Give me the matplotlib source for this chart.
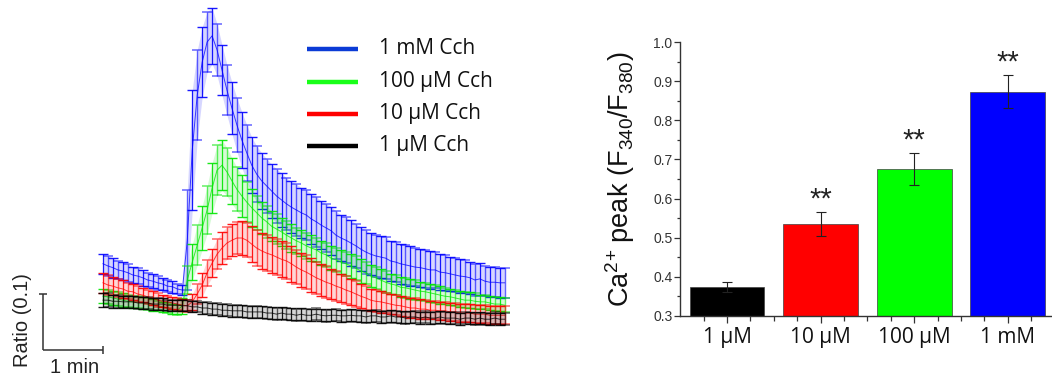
import numpy as np
import matplotlib
matplotlib.use("Agg")
import matplotlib.pyplot as plt
from matplotlib.lines import Line2D
from matplotlib.ticker import MultipleLocator, FixedLocator

plt.rcParams['font.family'] = ['Liberation Sans', 'DejaVu Sans']
plt.rcParams['mathtext.fontset'] = 'custom'
plt.rcParams['mathtext.rm'] = 'Liberation Sans'
plt.rcParams['mathtext.it'] = 'Liberation Sans:italic'
plt.rcParams['mathtext.bf'] = 'Liberation Sans:bold'
plt.rcParams['mathtext.default'] = 'regular'

# ---------------- data: Ca2+ traces (ratio F340/F380, mean and SEM) -------------
sample_interval_s = 5
time_s = np.arange(82) * sample_interval_s

trace_labels = ['1 mM Cch', '100 \u00b5M Cch', '10 \u00b5M Cch', '1 \u00b5M Cch']

mean_1mM = [0.454, 0.450, 0.447, 0.443, 0.441, 0.438, 0.434, 0.432, 0.429, 0.425, 0.423, 0.420, 0.418, 0.414, 0.413, 0.409, 0.407,
            0.496, 0.657, 0.755, 0.814, 0.850, 0.861, 0.836, 0.800, 0.764, 0.732, 0.702, 0.675, 0.652, 0.630,
            0.614, 0.602, 0.593, 0.584, 0.575, 0.568, 0.561, 0.555, 0.550, 0.545,
            0.541, 0.534, 0.529, 0.523, 0.518, 0.513, 0.505, 0.500, 0.496, 0.491,
            0.486, 0.480, 0.475, 0.471, 0.468, 0.466, 0.464, 0.459, 0.457, 0.454,
            0.452, 0.450, 0.448, 0.447, 0.445, 0.443, 0.443, 0.439, 0.438, 0.436,
            0.434, 0.432, 0.431, 0.429, 0.425, 0.427, 0.423, 0.421, 0.421, 0.420, 0.420]
sem_1mM = [0.018, 0.018, 0.018, 0.016, 0.016, 0.016, 0.014, 0.014, 0.014, 0.0125, 0.0125, 0.0125, 0.011, 0.011, 0.011, 0.009, 0.009,
           0.089, 0.107, 0.080, 0.0625, 0.054, 0.050, 0.046, 0.045, 0.045, 0.046, 0.048, 0.050, 0.050, 0.050,
           0.050, 0.050, 0.048, 0.048, 0.048, 0.048, 0.046, 0.046, 0.046, 0.045,
           0.045, 0.045, 0.045, 0.043, 0.043, 0.043, 0.043, 0.041, 0.041, 0.041,
           0.039, 0.039, 0.039, 0.0375, 0.0375, 0.0375, 0.0375, 0.036, 0.036, 0.036,
           0.036, 0.036, 0.034, 0.034, 0.034, 0.034, 0.032, 0.032, 0.032, 0.030,
           0.030, 0.030, 0.029, 0.029, 0.029, 0.029, 0.027, 0.027, 0.027, 0.027, 0.027]

mean_100uM = [0.396, 0.395, 0.393, 0.391, 0.389, 0.387, 0.386, 0.386, 0.384, 0.382, 0.380, 0.379, 0.377, 0.375, 0.373, 0.371, 0.379,
              0.425, 0.457, 0.487, 0.518, 0.550, 0.589, 0.621, 0.630, 0.618, 0.602, 0.587, 0.575, 0.564, 0.554,
              0.545, 0.536, 0.529, 0.521, 0.516, 0.511, 0.505, 0.500, 0.495, 0.491,
              0.486, 0.482, 0.479, 0.473, 0.470, 0.464, 0.461, 0.457, 0.454, 0.450,
              0.446, 0.441, 0.438, 0.432, 0.429, 0.425, 0.421, 0.418, 0.416, 0.412,
              0.411, 0.409, 0.407, 0.405, 0.404, 0.402, 0.400, 0.398, 0.396, 0.395,
              0.393, 0.391, 0.389, 0.389, 0.387, 0.386, 0.386, 0.384, 0.382, 0.382, 0.380]
sem_100uM = [0.0125, 0.0125, 0.0125, 0.0125, 0.0125, 0.011, 0.011, 0.011, 0.011, 0.011, 0.011, 0.009, 0.009, 0.009, 0.009, 0.009, 0.014,
             0.025, 0.032, 0.036, 0.039, 0.043, 0.045, 0.045, 0.045, 0.043, 0.041, 0.039, 0.0375, 0.036, 0.034,
             0.030, 0.029, 0.029, 0.027, 0.027, 0.025, 0.025, 0.025, 0.023, 0.023,
             0.023, 0.023, 0.021, 0.021, 0.021, 0.021, 0.021, 0.021, 0.021, 0.021,
             0.021, 0.021, 0.020, 0.020, 0.020, 0.020, 0.020, 0.018, 0.018, 0.018,
             0.018, 0.018, 0.018, 0.016, 0.016, 0.016, 0.016, 0.016, 0.014, 0.014,
             0.014, 0.014, 0.014, 0.014, 0.014, 0.0125, 0.0125, 0.0125, 0.0125, 0.0125, 0.0125]

mean_10uM = [0.420, 0.416, 0.414, 0.411, 0.409, 0.405, 0.404, 0.400, 0.398, 0.395, 0.393, 0.389, 0.387, 0.386, 0.384, 0.382, 0.380,
             0.379, 0.386, 0.400, 0.416, 0.438, 0.455, 0.471, 0.482, 0.491, 0.496, 0.500, 0.500, 0.496, 0.489,
             0.482, 0.477, 0.473, 0.470, 0.466, 0.462, 0.459, 0.454, 0.448, 0.443,
             0.439, 0.434, 0.429, 0.425, 0.421, 0.418, 0.414, 0.411, 0.407, 0.404,
             0.400, 0.396, 0.393, 0.389, 0.387, 0.386, 0.384, 0.382, 0.380, 0.379,
             0.377, 0.375, 0.375, 0.373, 0.373, 0.371, 0.371, 0.370, 0.370, 0.368,
             0.368, 0.366, 0.366, 0.366, 0.364, 0.364, 0.364, 0.362, 0.362, 0.362, 0.362]
sem_10uM = [0.018, 0.018, 0.016, 0.016, 0.016, 0.014, 0.014, 0.014, 0.0125, 0.0125, 0.0125, 0.0125, 0.011, 0.011, 0.011, 0.011, 0.011,
            0.011, 0.014, 0.018, 0.021, 0.023, 0.025, 0.027, 0.029, 0.029, 0.029, 0.029, 0.030, 0.030, 0.032,
            0.032, 0.032, 0.032, 0.032, 0.032, 0.032, 0.032, 0.032, 0.030, 0.030,
            0.030, 0.030, 0.029, 0.029, 0.029, 0.027, 0.027, 0.025, 0.025, 0.023,
            0.023, 0.021, 0.021, 0.020, 0.020, 0.020, 0.018, 0.018, 0.018, 0.018,
            0.018, 0.018, 0.018, 0.018, 0.016, 0.016, 0.016, 0.016, 0.016, 0.016,
            0.016, 0.016, 0.016, 0.016, 0.016, 0.016, 0.016, 0.016, 0.016, 0.016, 0.016]

mean_1uM = [0.389, 0.389, 0.387, 0.387, 0.386, 0.386, 0.386, 0.384, 0.384, 0.384, 0.382, 0.382, 0.382, 0.380, 0.380, 0.380, 0.379,
            0.379, 0.377, 0.377, 0.375, 0.375, 0.373, 0.373, 0.371, 0.371, 0.370, 0.370, 0.370, 0.368, 0.368,
            0.368, 0.368, 0.366, 0.366, 0.364, 0.366, 0.364, 0.364, 0.362, 0.364,
            0.362, 0.362, 0.364, 0.362, 0.361, 0.362, 0.362, 0.361, 0.361, 0.362,
            0.361, 0.361, 0.359, 0.361, 0.361, 0.359, 0.359, 0.361, 0.359, 0.359,
            0.357, 0.359, 0.359, 0.357, 0.359, 0.357, 0.357, 0.359, 0.357, 0.357,
            0.357, 0.355, 0.357, 0.357, 0.355, 0.357, 0.355, 0.355, 0.357, 0.355, 0.355]
sem_1uM = [0.012, 0.012, 0.012, 0.012, 0.011, 0.011, 0.011, 0.011, 0.011, 0.011, 0.011, 0.011, 0.010, 0.010, 0.010, 0.010, 0.010,
           0.010, 0.010, 0.010, 0.011, 0.011, 0.011, 0.011, 0.011, 0.011, 0.011, 0.011, 0.011, 0.011, 0.011,
           0.011, 0.011, 0.011, 0.011, 0.011, 0.011, 0.011, 0.011, 0.011, 0.011,
           0.011, 0.011, 0.011, 0.011, 0.011, 0.011, 0.011, 0.011, 0.011, 0.011,
           0.011, 0.011, 0.011, 0.011, 0.011, 0.011, 0.011, 0.011, 0.011, 0.011,
           0.011, 0.011, 0.011, 0.011, 0.011, 0.011, 0.011, 0.011, 0.011, 0.011,
           0.011, 0.011, 0.011, 0.011, 0.011, 0.011, 0.011, 0.011, 0.011, 0.011, 0.011]

trace_means = [mean_1mM, mean_100uM, mean_10uM, mean_1uM]
trace_sems = [sem_1mM, sem_100uM, sem_10uM, sem_1uM]
trace_colors = ['#0000ff', '#00e600', '#ff0000', '#000000']
legend_colors = ['#0b3bd6', '#19ff19', '#ff0000', '#000000']

# ---------------- data: peak bar chart -------------
bar_labels = ['1 \u00b5M', '10 \u00b5M', '100 \u00b5M', '1 mM']
bar_values = [0.374, 0.535, 0.675, 0.874]
bar_errors = [0.013, 0.030, 0.041, 0.041]
bar_colors = ['#000000', '#ff0000', '#00ff00', '#0000ff']
significance = ['', '**', '**', '**']

# ---------------- figure -------------
W, H = 1052, 378
fig = plt.figure(figsize=(W / 100, H / 100), dpi=100)

def fx(px):
    return px / W

def fy(py):
    return 1 - py / H

# left: traces (no axes, scale bars instead)
px_per_min = 59.5
x0_px = 103
ax1 = fig.add_axes([0, 0, fx(540), 1])
ax1.axis('off')
ax1.set_xlim(-x0_px / px_per_min, (540 - x0_px) / px_per_min)
ax1.set_ylim(0.25, 0.925)

t_min = time_s / 60.0
zorders = [2, 3, 4, 5]
for m, s, c, z in zip(trace_means, trace_sems, trace_colors, zorders):
    m = np.asarray(m)
    s = np.asarray(s)
    ax1.fill_between(t_min, m - s, m + s, color=c, alpha=0.16, lw=0, zorder=z)
    ax1.errorbar(t_min[::2], m[::2], yerr=s[::2], fmt='none', ecolor=c,
                 elinewidth=0.9, capsize=3.4, capthick=1.0, alpha=0.9, zorder=z)
    ax1.errorbar(t_min[1::2], m[1::2], yerr=s[1::2], fmt='none', ecolor=c,
                 elinewidth=1.0, capsize=3.4, capthick=1.1, alpha=0.6, zorder=z)
    ax1.plot(t_min, m, color=c, lw=0.7, alpha=0.75, zorder=z)

# scale bar: 1 min x 0.1 ratio
sb_x = (43 - x0_px) / px_per_min
sb_col = '#333333'
ax1.plot([sb_x, sb_x], [0.3, 0.4], color=sb_col, lw=1.1, solid_capstyle='butt')
ax1.plot([sb_x, sb_x + 1.0], [0.3, 0.3], color=sb_col, lw=1.1, solid_capstyle='butt')
ax1.plot([sb_x], [0.4], marker='_', ms=6, mew=1.1, color=sb_col)
ax1.plot([sb_x + 1.0], [0.3], marker='|', ms=6, mew=1.1, color=sb_col)
fig.text(fx(23), fy(320), 'Ratio (0.1)', rotation=90, ha='center', va='center',
         fontsize=14.5, color='#222222')
fig.text(fx(75), fy(373), '1 min', ha='center', va='baseline', fontsize=14.5, color='#222222')

# legend
leg_y = [49, 82, 114, 146]
for lab, c, y in zip(trace_labels, legend_colors, leg_y):
    fig.add_artist(Line2D([fx(307), fx(358)], [fy(y), fy(y)], color=c, lw=3.2,
                          solid_capstyle='butt'))
    fig.text(fx(379), fy(y), lab, ha='left', va='center', fontsize=15,
             family=['Open Sans', 'DejaVu Sans'], color='#111111')

# right: bar chart
ax2 = fig.add_axes([fx(680.2), fy(315.7), fx(374.4), fy(42.3) - fy(315.7)])
xpos = np.arange(len(bar_values))
ax2.bar(xpos, bar_values, width=0.8, color=bar_colors, edgecolor='#404040', linewidth=0.5,
        bottom=0, zorder=2)
ax2.errorbar(xpos, bar_values, yerr=bar_errors, fmt='none', ecolor='#222222',
             elinewidth=0.8, capsize=3.5, capthick=0.8, zorder=3)
for xp, v, e, sig in zip(xpos, bar_values, bar_errors, significance):
    if sig:
        ax2.text(xp, v + e + 0.012, sig, ha='center', va='baseline', fontsize=21,
                 color='#222222')

ax2.set_xlim(-0.5, 3.5)
ax2.set_ylim(0.3, 1.0)
ax2.spines['top'].set_visible(False)
ax2.spines['right'].set_visible(False)
for sp in ['left', 'bottom']:
    ax2.spines[sp].set_color('#333333')
    ax2.spines[sp].set_linewidth(1.0)
ax2.yaxis.set_major_locator(MultipleLocator(0.1))
ax2.yaxis.set_minor_locator(MultipleLocator(0.05))
ax2.set_yticks(np.arange(0.3, 1.01, 0.1))
ax2.set_yticklabels(['%.1f' % v for v in np.arange(0.3, 1.01, 0.1)])
ax2.set_xticks(xpos)
ax2.set_xticklabels(bar_labels, fontsize=15, family=['Open Sans', 'DejaVu Sans'])
ax2.xaxis.set_minor_locator(FixedLocator([-0.25, 0.25, 0.5, 0.75, 1.25, 1.5, 1.75,
                                          2.25, 2.5, 2.75, 3.25, 3.5]))
ax2.tick_params(axis='y', which='major', direction='out', length=4, width=0.9,
                labelsize=10, colors='#333333', pad=1.5)
ax2.tick_params(axis='y', which='minor', direction='out', length=2, width=0.9, colors='#333333')
ax2.tick_params(axis='x', which='major', direction='out', length=5, width=0.9,
                colors='#333333', labelcolor='#111111', pad=3)
ax2.tick_params(axis='x', which='minor', direction='out', length=3.5, width=0.9, colors='#333333')
ax2.set_ylabel(r'Ca$^{2\!+}\,$peak (F$_{340}$/F$_{380}$)', fontsize=19.5, labelpad=12,
               color='#111111')

fig.savefig('out.png', dpi=100)
